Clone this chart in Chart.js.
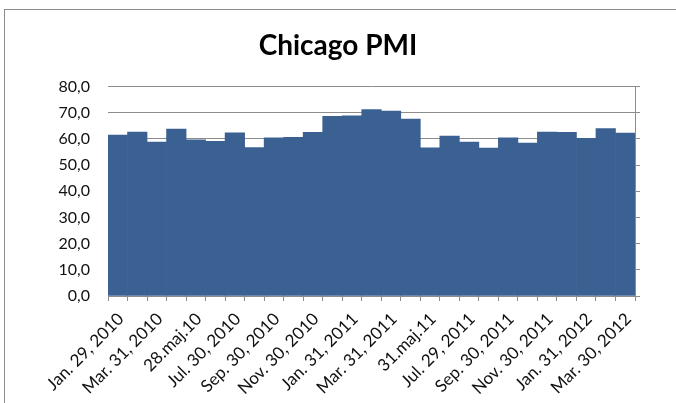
<!DOCTYPE html>
<html>
<head>
<meta charset="utf-8">
<script src="https://cdn.jsdelivr.net/npm/chart.js@4/dist/chart.umd.min.js"></script>
<style>
  body { margin: 0; background: #fff; }
  #wrap { width: 676px; height: 403px; }
</style>
</head>
<body>
<div id="wrap"><canvas id="pmiChart" width="676" height="403"></canvas></div>
<script>
// Chicago PMI, bulanan Jan 2010 - Mar 2012
const bulan = [
  'Jan. 29, 2010', 'Feb. 26, 2010', 'Mar. 31, 2010', 'Apr. 30, 2010', '28.maj.10', 'Jun. 30, 2010',
  'Jul. 30, 2010', 'Aug. 31, 2010', 'Sep. 30, 2010', 'Oct. 29, 2010', 'Nov. 30, 2010', 'Dec. 31, 2010',
  'Jan. 31, 2011', 'Feb. 28, 2011', 'Mar. 31, 2011', 'Apr. 29, 2011', '31.maj.11', 'Jun. 30, 2011',
  'Jul. 29, 2011', 'Aug. 31, 2011', 'Sep. 30, 2011', 'Oct. 31, 2011', 'Nov. 30, 2011', 'Dec. 30, 2011',
  'Jan. 31, 2012', 'Feb. 29, 2012', 'Mar. 30, 2012'
];
const nilaiPMI = [
  61.5, 62.6, 58.8, 63.8, 59.7, 59.1, 62.3, 56.7, 60.4, 60.6, 62.5, 68.6,
  68.8, 71.2, 70.6, 67.6, 56.6, 61.1, 58.8, 56.5, 60.4, 58.4, 62.6, 62.5,
  60.2, 64.0, 62.2
];
const sumbuY = { min: 0, max: 80, step: 10 };

const garis = '#8c8c8c';
const fontTeks = "Lato, 'Open Sans', sans-serif";

// bingkai luar ala Excel
const bingkai = {
  id: 'bingkai',
  beforeDraw(chart) {
    const c = chart.ctx;
    c.save();
    c.fillStyle = '#fff';
    c.fillRect(0, 0, chart.width, chart.height);
    c.strokeStyle = garis;
    c.lineWidth = 1;
    c.strokeRect(4.5, 9.5, chart.width + 20, chart.height + 20);
    c.restore();
  }
};

const ctx = document.getElementById('pmiChart').getContext('2d');
new Chart(ctx, {
  type: 'bar',
  data: {
    labels: bulan,
    datasets: [{
      label: 'Chicago PMI',
      data: nilaiPMI,
      backgroundColor: '#3b6092',
      borderWidth: 0,
      barPercentage: 1,
      categoryPercentage: 1
    }]
  },
  options: {
    responsive: false,
    animation: false,
    layout: { padding: { top: 20, left: 0, right: 0, bottom: 0 } },
    plugins: {
      legend: { display: false },
      tooltip: { enabled: false },
      title: {
        display: true,
        text: 'Chicago PMI',
        color: '#000',
        font: { family: fontTeks, size: 28, weight: 'bold' },
        padding: { top: 9, bottom: 24 }
      }
    },
    scales: {
      x: {
        grid: { display: true, drawOnChartArea: false, offset: true, color: garis, tickLength: 5 },
        border: { display: true, color: garis },
        ticks: {
          autoSkip: false,
          minRotation: 45,
          maxRotation: 45,
          padding: 8,
          labelOffset: 3,
          color: '#111',
          font: { family: fontTeks, size: 17 },
          callback: function(val, i) { return i % 2 === 0 ? this.getLabelForValue(val) : ''; }
        },
        afterFit(scale) { scale.height = 107; }
      },
      y: {
        min: sumbuY.min, max: sumbuY.max,
        grid: { color: garis, drawTicks: false },
        border: { display: false },
        ticks: {
          stepSize: sumbuY.step,
          padding: 18,
          color: '#111',
          font: { family: fontTeks, size: 16 },
          callback: v => v.toFixed(1).replace('.', ',')
        },
        afterFit(scale) { scale.width = 108; }
      },
      y2: {
        position: 'right',
        min: sumbuY.min, max: sumbuY.max,
        grid: { drawOnChartArea: false, color: garis, tickLength: 5 },
        border: { display: true, color: garis },
        ticks: { stepSize: sumbuY.step, display: false },
        afterFit(scale) { scale.width = 41; }
      }
    }
  },
  plugins: [bingkai]
});
</script>
</body>
</html>
